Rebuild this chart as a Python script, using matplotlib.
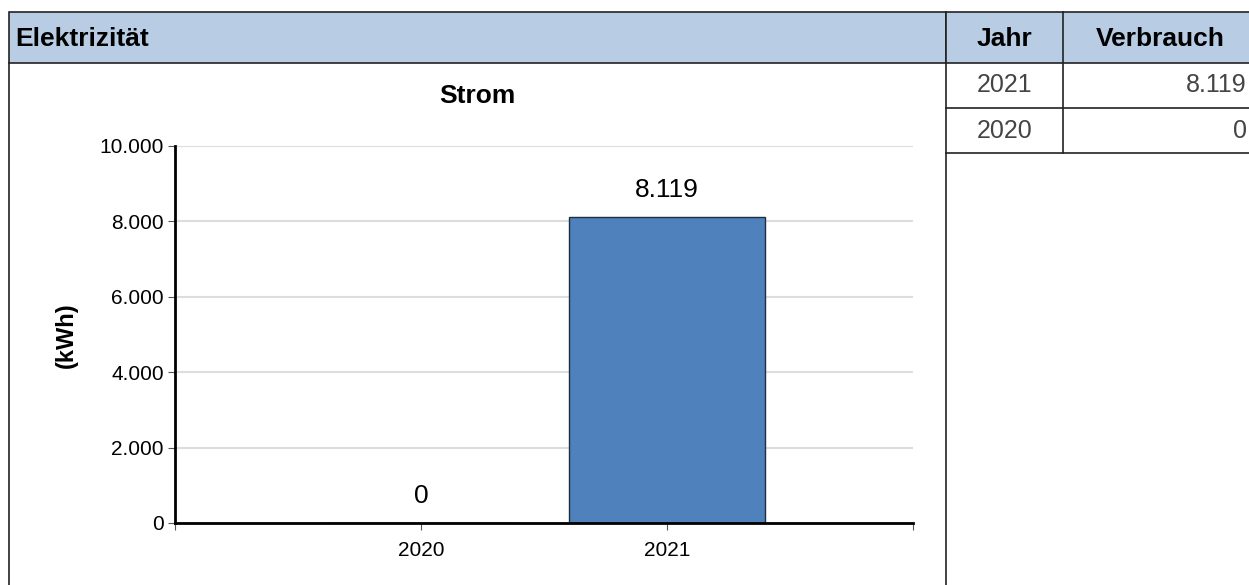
import matplotlib.pyplot as plt
from matplotlib.patches import Rectangle

plt.rcParams['font.family'] = ['Liberation Sans', 'DejaVu Sans']

# Daten
jahre = ['2020', '2021']
verbrauch = [0, 8119]
y_ticks = [0, 2000, 4000, 6000, 8000, 10000]

# Tabelle (absteigend sortiert wie im Bericht)
tab_jahre = ['2021', '2020']
tab_werte = [8119, 0]


def fmt(v):
    # deutsches Tausendertrennzeichen
    return f'{v:,.0f}'.replace(',', '.')


W, H = 1249, 585
fig = plt.figure(figsize=(W / 100, H / 100), dpi=100)

# Overlay in Pixelkoordinaten fuer Rahmen und Tabelle
bg = fig.add_axes([0, 0, 1, 1])
bg.set_xlim(0, W)
bg.set_ylim(H, 0)
bg.axis('off')

head_col = '#B8CCE4'
line_col = '#222222'

# Kopfzeile links
bg.add_patch(Rectangle((9, 12), 937, 51, facecolor=head_col, edgecolor=line_col, lw=1.2))
bg.text(15, 39, 'Elektrizität', fontsize=19, fontweight='bold', va='center', ha='left')
bg.plot([9, 9], [63, H], color=line_col, lw=1.2)
bg.plot([946, 946], [63, H], color=line_col, lw=1.2)

# Tabelle rechts
col_x = [946, 1063, 1252]
bg.add_patch(Rectangle((946, 12), 306, 51, facecolor=head_col, edgecolor=line_col, lw=1.2))
bg.plot([1063, 1063], [12, 153], color=line_col, lw=1.2)
bg.text((col_x[0] + col_x[1]) / 2, 39, 'Jahr', fontsize=19, fontweight='bold', ha='center', va='center')
bg.text(1160, 39, 'Verbrauch', fontsize=19, fontweight='bold', ha='center', va='center')
row_h = 45
for i, (j, v) in enumerate(zip(tab_jahre, tab_werte)):
    y0 = 63 + i * row_h
    bg.plot([946, W], [y0 + row_h, y0 + row_h], color=line_col, lw=1.2)
    bg.text((col_x[0] + col_x[1]) / 2, y0 + row_h / 2, j, fontsize=18, color='#444444',
            ha='center', va='center')
    bg.text(1247, y0 + row_h / 2, fmt(v), fontsize=18, color='#444444', ha='right', va='center')

# Diagramm
ax = fig.add_axes([175 / W, (H - 523) / H, 738 / W, (523 - 146) / H])
x = list(range(len(jahre)))
ax.bar(x, verbrauch, width=0.8, color='#4F81BD', edgecolor='#1F2F40', lw=1, zorder=3)
ax.set_xlim(-1, 2)
ax.set_ylim(0, 10000)
ax.set_yticks(y_ticks)
ax.set_yticklabels([fmt(t) for t in y_ticks], fontsize=15)
ax.set_xticks([-1, 0, 1, 2])
ax.set_xticklabels(['', jahre[0], jahre[1], ''], fontsize=15)
ax.tick_params(axis='y', length=5, width=0.8, color='#555555', pad=3)
ax.tick_params(axis='x', length=5, width=0.8, color='#555555', pad=8)
ax.grid(axis='y', color='#DDDDDD', lw=1.5, zorder=0)
for s in ['top', 'right']:
    ax.spines[s].set_visible(False)
for s in ['left', 'bottom']:
    ax.spines[s].set_linewidth(2)
    ax.spines[s].set_zorder(4)

for xi, v in zip(x, verbrauch):
    ax.text(xi, v + 400, fmt(v), ha='center', va='bottom', fontsize=19)

bg.text(477, 96, 'Strom', fontsize=19, fontweight='bold', ha='center', va='center')
bg.text(66, 335, '(kWh)', fontsize=17, fontweight='bold', rotation=90, ha='center', va='center')

fig.savefig('out.png', dpi=100)
